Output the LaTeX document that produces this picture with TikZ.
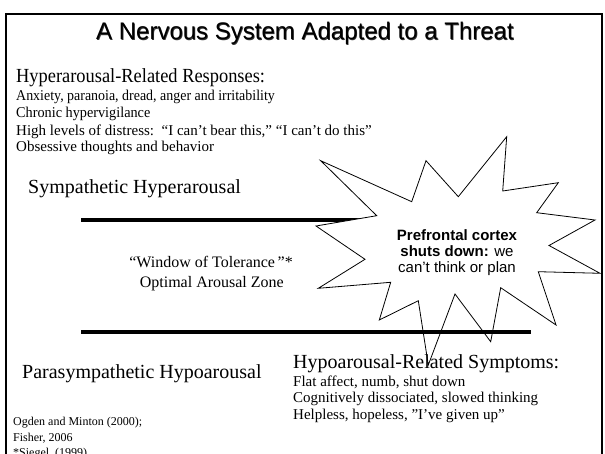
\documentclass[tikz,border=0pt]{standalone}
\usepackage{fontspec}
\usepackage{graphicx}
\setmainfont{Liberation Serif}
\newfontfamily\arialf{Liberation Sans}
\begin{document}
\begin{tikzpicture}[x=1pt,y=-1pt,
  txt/.style={anchor=base west, inner sep=0pt, font=\fontsize{15}{17}\selectfont},
  head/.style={anchor=base west, inner sep=0pt, font=\fontsize{20}{24}\selectfont},
  refs/.style={anchor=base west, inner sep=0pt, font=\fontsize{12}{14}\selectfont},
  titlestyle/.style={anchor=base, inner sep=0pt, font=\arialf\fontsize{24}{28}\selectfont},
  bar/.style={line width=4pt},
  starshape/.style={draw=black, fill=white, line width=0.8pt, line join=miter},
]
\useasboundingbox (0,0) rectangle (605,454);
\clip (0,0) rectangle (605,454);
\fill[white] (0,0) rectangle (605,454);
\draw[line width=2pt] (6,14) rectangle (602,480);

% title (slightly thickened)
\node[titlestyle, text=black!80] (titleshadow) at (305.7,40.4) {A Nervous System Adapted to a Threat};
\node[titlestyle] (title) at (305,40) {A Nervous System Adapted to a Threat};

% hyperarousal block
\node[head] (hyperhead) at (16,83) {\scalebox{0.92}[1]{Hyperarousal-Related Responses:}};
\node[txt] (h1) at (16,101) {\scalebox{0.93}[1]{Anxiety, paranoia, dread, anger and irritability}};
\node[txt] (h2) at (16,118) {\scalebox{0.95}[1]{Chronic hypervigilance}};
\node[txt] (h3) at (16,136) {High levels of distress:\ \ “I can’t bear this,” “I can’t do this”};
\node[txt] (h4) at (16,152) {Obsessive thoughts and behavior};

\node[head] (symp) at (28,194) {Sympathetic Hyperarousal};

% upper line (under the star)
\coordinate (u1) at (81,220);
\coordinate (u2) at (480,220);
\draw[bar] (u1) -- (u2);

% star
\draw[starshape] (320.7,160.7) -- (411.7,201.7) -- (426,160.7) -- (458.3,196.7)
  -- (506.7,136.7) -- (502.7,191) -- (558.3,182.7) -- (536.7,212.7)
  -- (595,220) -- (549,245.5) -- (600,273.3) -- (538.3,271.7)
  -- (556,325) -- (500.7,287.7) -- (490.7,341.7) -- (455,294)
  -- (428.3,365) -- (418.3,300.7) -- (379.3,320) -- (390.7,282.3)
  -- (318.3,288.3) -- (365,259.3) -- (316,226) -- (376.7,215.7) -- cycle;

\node[align=center, inner sep=0pt, font=\arialf\fontsize{15}{15.7}\selectfont] (pfc) at (457,252.5)
  {\textbf{Prefrontal cortex}\\\textbf{shuts down:} we\\can’t think or plan};

% lower line (over the star)
\coordinate (l1) at (81,332);
\coordinate (l2) at (531,332);
\draw[bar] (l1) -- (l2);

% window of tolerance
\node[anchor=base east, inner sep=0pt, font=\fontsize{16}{18}\selectfont] (win) at (293,268) {“Window of Tolerance\,”*};
\node[anchor=base east, inner sep=0pt, font=\fontsize{16}{18}\selectfont] (opt) at (284,288) {Optimal Arousal Zone};

\node[head] (para) at (22,378) {Parasympathetic Hypoarousal};

% hypoarousal block
\node[head] (hypohead) at (293,368) {Hypoarousal-Related Symptoms:};
\node[txt] (s1) at (293,386) {Flat affect, numb, shut down};
\node[txt] (s2) at (293,402) {Cognitively dissociated, slowed thinking};
\node[txt] (s3) at (293,419) {Helpless, hopeless, "I’ve given up”};

% references
\node[refs] (r1) at (13,425) {Ogden and Minton (2000);};
\node[refs] (r2) at (13,441) {Fisher, 2006};
\node[refs] (r3) at (13,456) {*Siegel, (1999)};
\end{tikzpicture}
\end{document}
